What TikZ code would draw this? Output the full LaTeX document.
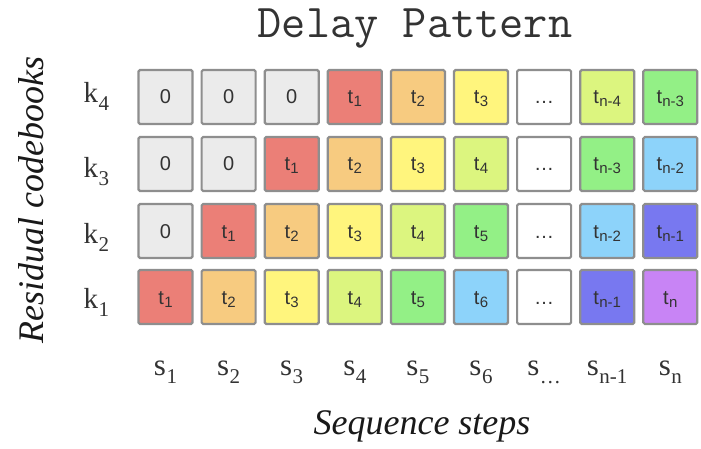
\documentclass[tikz,border=0pt]{standalone}
\usepackage{fontspec}
\setmainfont{Liberation Serif}
\setsansfont{Liberation Sans}

% cell palette
\definecolor{cgray}{HTML}{EBEBEB}
\definecolor{cred}{HTML}{EB7F77}
\definecolor{corange}{HTML}{F7CB80}
\definecolor{cyellow}{HTML}{FFF57D}
\definecolor{clime}{HTML}{DCF57F}
\definecolor{cgreen}{HTML}{93F086}
\definecolor{csky}{HTML}{8DD3FA}
\definecolor{cindigo}{HTML}{7878F0}
\definecolor{cpurple}{HTML}{C884F5}
\definecolor{cwhite}{HTML}{FFFFFF}
\definecolor{cedge}{HTML}{8E8E8E}
\definecolor{ctext}{HTML}{333333}

% token t with a lowered index
\newcommand{\tok}[1]{t\kern0.3pt\raisebox{-3pt}{\fontsize{15}{15}\selectfont #1}}
% serif label letter with a lowered index
\newcommand{\lab}[2]{#1\kern0.5pt\raisebox{-8pt}{\fontsize{21}{21}\selectfont #2}}

\tikzset{
  cell/.style={draw=cedge, line width=2.2pt, rounded corners=1.5pt,
    minimum width=54pt, minimum height=54pt, inner sep=0pt,
    text height=14pt, text depth=0pt, text=ctext,
    font=\sffamily\fontsize{20}{20}\selectfont},
  rowlabel/.style={anchor=base west, text=ctext, font=\fontsize{29}{29}\selectfont},
  collabel/.style={anchor=base, text=ctext, font=\fontsize{31}{31}\selectfont},
  axislabel/.style={text=black!90, font=\itshape\fontsize{36}{36}\selectfont},
}

\begin{document}
\begin{tikzpicture}[x=1pt, y=-1pt]
\useasboundingbox (0,0) rectangle (701,449);

% title
\node[anchor=base, text=ctext, font=\ttfamily\fontsize{47}{47}\selectfont] (title) at (415,38) {Delay Pattern};

% grid positions: rows k4..k1, columns s1..sn
\foreach \r/\yy in {4/97, 3/164, 2/231, 1/297} {
  \foreach \c in {1,...,9} {
    \coordinate (p-\r-\c) at ({165.5 + 63.1*(\c-1)}, \yy);
  }
}

% codebook tokens: row / column / fill / text
\foreach \r/\c/\fc/\txt in {
  4/1/cgray/0, 4/2/cgray/0, 4/3/cgray/0, 4/4/cred/\tok{1}, 4/5/corange/\tok{2},
  4/6/cyellow/\tok{3}, 4/7/cwhite/\dots, 4/8/clime/\tok{n-4}, 4/9/cgreen/\tok{n-3},
  3/1/cgray/0, 3/2/cgray/0, 3/3/cred/\tok{1}, 3/4/corange/\tok{2}, 3/5/cyellow/\tok{3},
  3/6/clime/\tok{4}, 3/7/cwhite/\dots, 3/8/cgreen/\tok{n-3}, 3/9/csky/\tok{n-2},
  2/1/cgray/0, 2/2/cred/\tok{1}, 2/3/corange/\tok{2}, 2/4/cyellow/\tok{3}, 2/5/clime/\tok{4},
  2/6/cgreen/\tok{5}, 2/7/cwhite/\dots, 2/8/csky/\tok{n-2}, 2/9/cindigo/\tok{n-1},
  1/1/cred/\tok{1}, 1/2/corange/\tok{2}, 1/3/cyellow/\tok{3}, 1/4/clime/\tok{4}, 1/5/cgreen/\tok{5},
  1/6/csky/\tok{6}, 1/7/cwhite/\dots, 1/8/cindigo/\tok{n-1}, 1/9/cpurple/\tok{n}
} {
  \node[cell, fill=\fc] (cell-\r-\c) at (p-\r-\c) {\txt};
}

% codebook labels
\node[rowlabel] (k4) at (80,103) {\lab{k}{4}};
\node[rowlabel] (k3) at (80,178) {\lab{k}{3}};
\node[rowlabel] (k2) at (80,243) {\lab{k}{2}};
\node[rowlabel] (k1) at (80,308) {\lab{k}{1}};

% sequence step labels
\foreach \c/\sub in {1/1, 2/2, 3/3, 4/4, 5/5, 6/6, 7/\dots, 8/n-1, 9/n} {
  \node[collabel] (s-\c) at ({165.5 + 63.1*(\c-1)}, 375) {\lab{s}{\sub}};
}

% axis titles
\node[axislabel, anchor=base] (xaxis) at (422,434) {Sequence steps};
\node[axislabel, anchor=base, rotate=90] (yaxis) at (43,200) {Residual codebooks};
\end{tikzpicture}
\end{document}
